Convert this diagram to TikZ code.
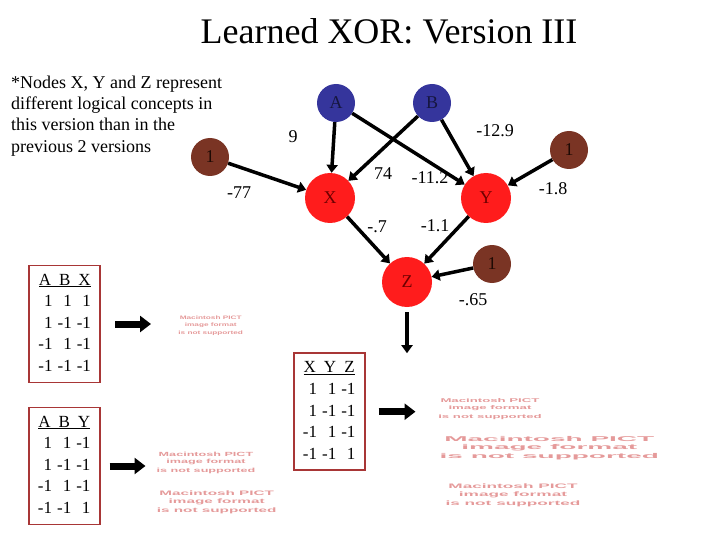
\documentclass[tikz,border=0pt]{standalone}
\usepackage{fontspec}
\setmainfont{Liberation Serif}
\newfontfamily\pictfont{Liberation Sans}
\usetikzlibrary{arrows.meta}
\definecolor{clrinput}{HTML}{35359C}
\definecolor{clrinputtext}{HTML}{16163F}
\definecolor{clrhidden}{HTML}{FF1C1C}
\definecolor{clrhiddentext}{HTML}{6E0000}
\definecolor{clrbias}{HTML}{7A3424}
\definecolor{clrbiastext}{HTML}{1E0A04}
\definecolor{clrarrow}{HTML}{000000}
\definecolor{clrtext}{HTML}{000000}
\definecolor{clrtabframe}{HTML}{A83636}
\definecolor{clrpict}{HTML}{E59A9A}
\newcommand{\pictnote}[2]{\scalebox{#1}[1]{\fontsize{#2}{#2}\selectfont\pictfont\bfseries\shortstack{Macintosh PICT\\image format\\is not supported}}}

\begin{document}
\begin{tikzpicture}[
    x=1pt, y=-1pt,
    every node/.style={font=\fontsize{18}{21}\selectfont, text=clrtext},
    unit/.style={circle, inner sep=0pt, font=\fontsize{18}{18}\selectfont},
    inputnode/.style={unit, fill=clrinput, text=clrinputtext, minimum size=38pt},
    hiddennode/.style={unit, fill=clrhidden, text=clrhiddentext, minimum size=50pt},
    biasnode/.style={unit, fill=clrbias, text=clrbiastext, minimum size=38pt},
    arrow/.style={-{Triangle[length=8pt 0, width=11pt 0]}, line width=3.5pt, color=clrarrow},
    fatarrow/.style={-{Triangle[length=11pt 0, width=16pt 0]}, line width=7pt, color=clrarrow},
    weight/.style={font=\fontsize{18}{18}\selectfont, inner sep=1pt},
    truthtab/.style={draw=clrtabframe, line width=1.6pt, minimum width=71pt,
                     minimum height=117pt, inner sep=0pt, font=\fontsize{17}{21.6}\selectfont},
    pict/.style={inner sep=0pt, text=clrpict},
]
\useasboundingbox (0,0) rectangle (720,540);

% title and note
\node[anchor=base, font=\fontsize{36}{40}\selectfont] (title) at (389,44) {Learned XOR: Version III};
\node[anchor=north west, inner sep=0pt, align=left, font=\fontsize{18}{21.3}\selectfont] (note) at (11,75.5)
    {*Nodes X, Y and Z represent\\different logical concepts in\\this version than in the\\previous 2 versions};

% network
\node[inputnode] (A) at (336,103) {A};
\node[inputnode] (B) at (432,103) {B};
\node[biasnode] (bias_x) at (210,157) {1};
\node[biasnode] (bias_y) at (569,150) {1};
\node[hiddennode] (X) at (330,198) {X};
\node[hiddennode] (Y) at (486,198) {Y};
\node[hiddennode] (Z) at (407,282) {Z};
\node[biasnode] (bias_z) at (492,264) {1};

\draw[arrow] (A) -- (X);
\draw[arrow] (A) -- (Y);
\draw[arrow] (B) -- (X);
\draw[arrow] (B) -- (Y);
\draw[arrow] (bias_x) -- (X);
\draw[arrow] (bias_y) -- (Y);
\draw[arrow] (X) -- (Z);
\draw[arrow] (Y) -- (Z);
\draw[arrow] (bias_z) -- (Z);
\draw[arrow] ([yshift=-5pt]Z.south) -- ++(0,41);

% weights
\node[weight] (w_9) at (293,137) {9};
\node[weight] (w_129) at (495,131) {-12.9};
\node[weight] (w_77) at (239,193) {-77};
\node[weight] (w_74) at (383,174) {74};
\node[weight] (w_112) at (430,178) {-11.2};
\node[weight] (w_18) at (553,189) {-1.8};
\node[weight] (w_07) at (377,227) {-.7};
\node[weight] (w_11) at (435,226) {-1.1};
\node[weight] (w_065) at (473,300) {-.65};

% truth tables
\node[truthtab] (tab_abx) at (64.7,324) {\begin{tabular}{@{}r@{\hspace{5pt}}r@{\hspace{5pt}}r@{}}
    \multicolumn{3}{@{}c@{}}{\underline{A\hspace{8pt}B\hspace{8pt}X}}\\
    1&1&1\\ 1&-1&-1\\ -1&1&-1\\ -1&-1&-1
    \end{tabular}};
\node[truthtab] (tab_aby) at (64.2,466) {\begin{tabular}{@{}r@{\hspace{5pt}}r@{\hspace{5pt}}r@{}}
    \multicolumn{3}{@{}c@{}}{\underline{A\hspace{8pt}B\hspace{8pt}Y}}\\
    1&1&-1\\ 1&-1&-1\\ -1&1&-1\\ -1&-1&1
    \end{tabular}};
\node[truthtab] (tab_xyz) at (329.2,411.7) {\begin{tabular}{@{}r@{\hspace{5pt}}r@{\hspace{5pt}}r@{}}
    \multicolumn{3}{@{}c@{}}{\underline{X\hspace{8pt}Y\hspace{8pt}Z}}\\
    1&1&-1\\ 1&-1&-1\\ -1&1&-1\\ -1&-1&1
    \end{tabular}};

\draw[fatarrow] ([xshift=14pt]tab_abx.east) -- ++(36,0);
\draw[fatarrow] ([xshift=9pt]tab_aby.east) -- ++(36,0);
\draw[fatarrow] ([xshift=13pt]tab_xyz.east) -- ++(37,0);

% missing pictures
\node[pict] (pict_1) at (210.7,325.7) {\pictnote{1.65}{5}};
\node[pict] (pict_2) at (206,463) {\pictnote{2.1}{6}};
\node[pict] (pict_3) at (216.7,502.7) {\pictnote{2.35}{6.5}};
\node[pict] (pict_4) at (490,409) {\pictnote{2.4}{5.5}};
\node[pict] (pict_5) at (549.3,448.3) {\pictnote{4.0}{7}};
\node[pict] (pict_6) at (513,495) {\pictnote{2.65}{6.5}};
\end{tikzpicture}
\end{document}
